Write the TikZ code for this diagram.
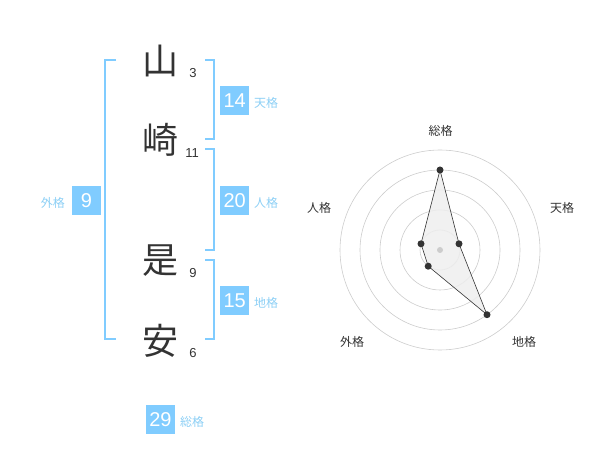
\documentclass[tikz,border=0pt]{standalone}
\usepackage{fontspec}
\setmainfont{Liberation Sans}
\newfontfamily\cjk{Noto Sans CJK JP}
\definecolor{skyb}{HTML}{80CCFF}
\definecolor{lbl}{HTML}{8CCFF5}
\definecolor{ink}{HTML}{333333}
\definecolor{ring}{HTML}{CCCCCC}
\definecolor{area}{HTML}{EEEEEE}
\begin{document}
\begin{tikzpicture}[x=1pt,y=-1pt,
  kanji/.style={font=\cjk\fontsize{36}{36}\selectfont,text=ink,inner sep=0pt},
  strokes/.style={font=\fontsize{13}{13}\selectfont,text=ink,inner sep=0pt},
  numbox/.style={fill=skyb,text=white,minimum width=29pt,minimum height=29pt,inner sep=0pt,font=\fontsize{20}{20}\selectfont},
  kaku/.style={font=\cjk\fontsize{12}{12}\selectfont,text=lbl,inner sep=0pt},
  brk/.style={draw=skyb,line width=2pt},
  axlbl/.style={font=\cjk\fontsize{12}{12}\selectfont,text=ink,inner sep=0pt},
  dot/.style={circle,fill=ink,inner sep=0pt,minimum size=7pt}]
\useasboundingbox (0,0) rectangle (600,470);
% kanji
\node[kanji] (k1) at (160,61) {山};
\node[kanji] (k2) at (160,140) {崎};
\node[kanji] (k3) at (160,261) {是};
\node[kanji] (k4) at (160,341) {安};
\node[strokes] (s1) at (193,73) {3};
\node[strokes] (s2) at (192,153) {11};
\node[strokes] (s3) at (193,273) {9};
\node[strokes] (s4) at (193,353) {6};
% brackets
\draw[brk] (116,60) -- (105,60) -- (105,339) -- (116,339);
\draw[brk] (205,60) -- (214,60) -- (214,139) -- (205,139);
\draw[brk] (205,149) -- (214,149) -- (214,250) -- (205,250);
\draw[brk] (205,260) -- (214,260) -- (214,339) -- (205,339);
% boxes
\node[numbox] (b14) at (234.7,100.3) {14};
\node[kaku,anchor=west] (l14) at (254,103) {天格};
\node[numbox] (b20) at (234.7,200.3) {20};
\node[kaku,anchor=west] (l20) at (254,203) {人格};
\node[numbox] (b15) at (234.7,300.3) {15};
\node[kaku,anchor=west] (l15) at (254,303) {地格};
\node[numbox] (b9) at (86.5,200.3) {9};
\node[kaku,anchor=east] (l9) at (65,203) {外格};
\node[numbox] (b29) at (160.5,419.2) {29};
\node[kaku,anchor=west] (l29) at (180,422) {総格};
% radar
\coordinate (c) at (440,250);
\foreach \r in {20,40,60,80,100} \draw[ring,line width=0.6pt] (c) circle[radius=\r pt];
\coordinate (p1) at (440,170);
\coordinate (p2) at (459.0,243.8);
\coordinate (p3) at (487.0,314.7);
\coordinate (p4) at (428.2,266.2);
\coordinate (p5) at (421.0,243.8);
\fill[area,fill opacity=0.85] (p1) -- (p2) -- (p3) -- (p4) -- (p5) -- cycle;
\draw[ink,line width=0.6pt] (p1) -- (p2) -- (p3) -- (p4) -- (p5) -- cycle;
\node[circle,fill=ring,inner sep=0pt,minimum size=6pt] (cd) at (c) {};
\foreach \p in {p1,p2,p3,p4,p5} \node[dot] (d\p) at (\p) {};
\node[axlbl] (a1) at (440.7,130.7) {総格};
\node[axlbl] (a2) at (562,208) {天格};
\node[axlbl] (a3) at (524,342) {地格};
\node[axlbl] (a4) at (352,342) {外格};
\node[axlbl] (a5) at (319,208) {人格};
\end{tikzpicture}
\end{document}
